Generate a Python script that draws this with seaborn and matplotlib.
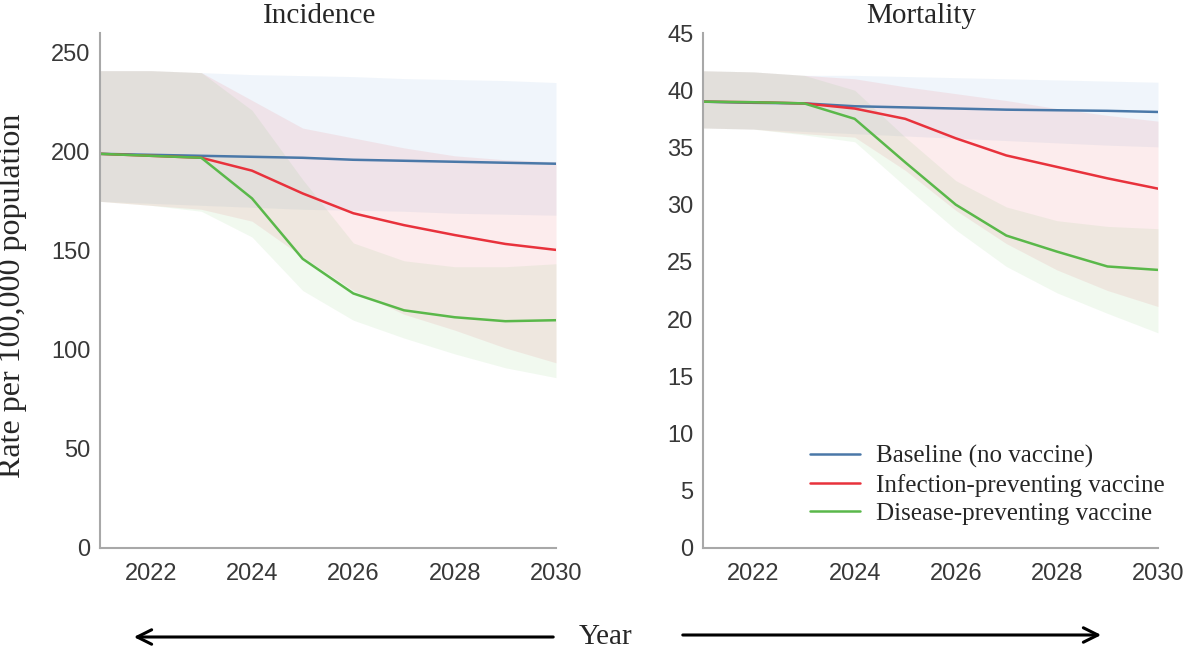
import matplotlib.pyplot as plt
import pandas as pd
import seaborn as sns
from matplotlib.patches import FancyArrowPatch

# Data
years = list(range(2021, 2031))
scenarios = ['Baseline (no vaccine)', 'Infection-preventing vaccine', 'Disease-preventing vaccine']

inc_base = [199, 198.5, 198, 197.5, 197, 196, 195.5, 195, 194.5, 194]
inc_inf = [199, 198, 197, 190.5, 179, 169, 163, 158, 153.5, 150.5]
inc_dis = [199, 198, 197, 176.5, 146, 128.5, 120, 116.5, 114.5, 115]
inc_base_lo = [175, 174, 173, 172, 171, 170.5, 170, 169, 168.5, 168]
inc_base_hi = [241, 241, 240, 239, 238.5, 238, 237, 236.5, 236, 235]
inc_inf_lo = [175, 173, 171, 165, 147, 130, 118, 110, 101, 93.5]
inc_inf_hi = [241, 241, 240, 226, 212, 207, 202, 198, 196, 195]
inc_dis_lo = [175, 173, 170, 157, 130, 115, 106, 98, 91, 86]
inc_dis_hi = [241, 241, 240, 221, 186, 154, 145, 142, 142, 143.5]

mor_base = [39.0, 38.9, 38.85, 38.6, 38.5, 38.4, 38.3, 38.25, 38.2, 38.1]
mor_inf = [39.0, 38.95, 38.85, 38.4, 37.5, 35.8, 34.3, 33.3, 32.3, 31.4]
mor_dis = [39.0, 38.95, 38.85, 37.5, 33.7, 30.0, 27.3, 25.9, 24.6, 24.3]
mor_base_lo = [36.7, 36.6, 36.4, 36.2, 36.0, 35.8, 35.6, 35.4, 35.2, 35.05]
mor_base_hi = [41.7, 41.6, 41.3, 41.3, 41.2, 41.1, 41.0, 40.9, 40.8, 40.7]
mor_inf_lo = [36.7, 36.6, 36.2, 35.9, 33.0, 29.5, 26.6, 24.3, 22.5, 21.1]
mor_inf_hi = [41.7, 41.6, 41.3, 41.0, 40.3, 39.7, 39.1, 38.4, 37.8, 37.3]
mor_dis_lo = [36.7, 36.6, 36.1, 35.5, 31.6, 27.8, 24.6, 22.3, 20.5, 18.8]
mor_dis_hi = [41.7, 41.6, 41.3, 40.0, 35.9, 32.1, 29.8, 28.6, 28.1, 27.9]

line_colors = {scenarios[0]: '#4a78a8', scenarios[1]: '#e8323c', scenarios[2]: '#5ab84a'}
band_colors = {scenarios[0]: ('#4a8ad0', 0.08), scenarios[1]: ('#e6323c', 0.09), scenarios[2]: ('#50b43c', 0.08)}

sns.set_style('white')
plt.rcParams['font.family'] = ['Liberation Sans', 'DejaVu Sans']
SERIF = ['Liberation Serif', 'DejaVu Serif']

W, H = 1185, 654
fig = plt.figure(figsize=(W / 100, H / 100), dpi=100)


def _axes_px(left, right, top, bottom):
    return fig.add_axes([left / W, 1 - bottom / H, (right - left) / W, (bottom - top) / H])


def _draw_panel(ax, mids, bands, ylim, yticks):
    df = pd.DataFrame({
        'year': years * 3,
        'value': mids[0] + mids[1] + mids[2],
        'scenario': [s for s in scenarios for _ in years],
    })
    for s, (lo, hi) in zip(scenarios, bands):
        c, a = band_colors[s]
        ax.fill_between(years, lo, hi, color=c, alpha=a, linewidth=0)
    sns.lineplot(data=df, x='year', y='value', hue='scenario', hue_order=scenarios,
                 palette=line_colors, linewidth=1.8, legend=False, ax=ax)
    ax.set_xlim(2021, 2030)
    ax.set_ylim(*ylim)
    ax.set_xticks([2022, 2024, 2026, 2028, 2030])
    ax.set_yticks(yticks)
    ax.set_xlabel('')
    ax.set_ylabel('')
    for side in ['top', 'right']:
        ax.spines[side].set_visible(False)
    for side in ['left', 'bottom']:
        ax.spines[side].set_color('#a8a8a8')
        ax.spines[side].set_linewidth(1.5)
    ax.tick_params(axis='both', direction='in', length=3, width=1, color='#a8a8a8',
                   labelsize=17, labelcolor='#383838')
    ax.tick_params(axis='x', pad=11)
    ax.tick_params(axis='y', pad=7)


ax1 = _axes_px(100, 556, 33, 548)
ax2 = _axes_px(703, 1158, 33, 548)

_draw_panel(ax1, [inc_base, inc_inf, inc_dis],
            [(inc_base_lo, inc_base_hi), (inc_inf_lo, inc_inf_hi), (inc_dis_lo, inc_dis_hi)],
            (0, 260), range(0, 251, 50))
_draw_panel(ax2, [mor_base, mor_inf, mor_dis],
            [(mor_base_lo, mor_base_hi), (mor_inf_lo, mor_inf_hi), (mor_dis_lo, mor_dis_hi)],
            (0, 45), range(0, 46, 5))

leg = ax2.legend(ax2.get_lines()[:3], scenarios, loc='upper left',
                 bbox_to_anchor=(810 / W, 1 - 445 / H), bbox_transform=fig.transFigure,
                 frameon=False, borderpad=0, borderaxespad=0, handlelength=2.0,
                 handletextpad=0.65, labelspacing=0.22, prop={'family': SERIF, 'size': 18})

fig.text(320 / W, 1 - 23 / H, 'Incidence', family=SERIF, fontsize=21, ha='center', va='baseline')
fig.text(921 / W, 1 - 23 / H, 'Mortality', family=SERIF, fontsize=21, ha='center', va='baseline')
fig.text(13 / W, 1 - 296 / H, 'Rate per 100,000 population', family=SERIF, fontsize=23,
         rotation=90, ha='center', va='center')

# Year label with arrows
fig.text(606 / W, 1 - 637 / H, 'Year', family=SERIF, fontsize=21, ha='center', va='center')
arrow = dict(arrowstyle='->', color='black', lw=2.2, mutation_scale=26)
fig.add_artist(FancyArrowPatch((556 / W, 1 - 637 / H), (131 / W, 1 - 637 / H),
                               transform=fig.transFigure, **arrow))
fig.add_artist(FancyArrowPatch((680 / W, 1 - 635 / H), (1104 / W, 1 - 635 / H),
                               transform=fig.transFigure, **arrow))

fig.savefig('out.png', dpi=100)
